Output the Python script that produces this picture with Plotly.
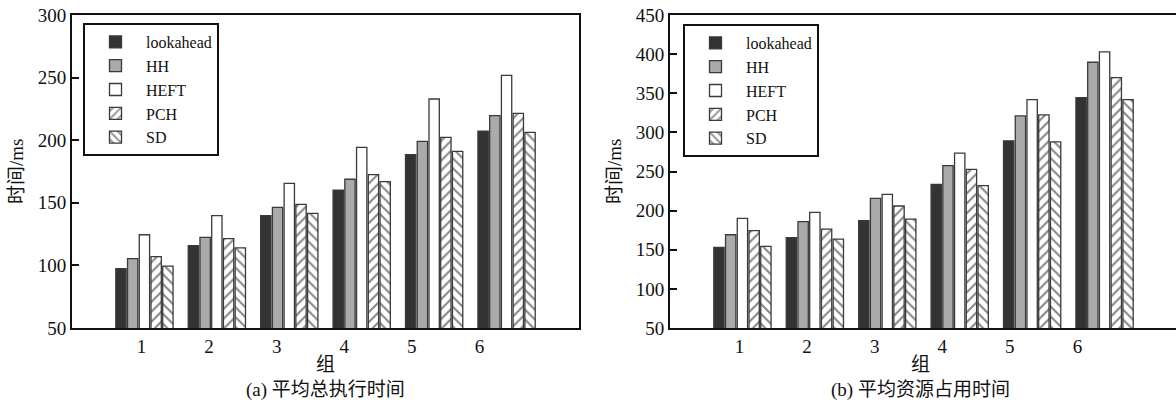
import plotly.graph_objects as go

# ---------------- data ----------------
groups = [1, 2, 3, 4, 5, 6]
tick_labels = ["1", "2", "3", "4", "5", "6"]
series_names = ["lookahead", "HH", "HEFT", "PCH", "SD"]

# (a) 平均总执行时间
a_lookahead = [97.5, 115.7, 139.7, 160.2, 188.4, 207.3]
a_hh        = [105.4, 122.4, 146.4, 168.8, 199.1, 219.6]
a_heft      = [124.5, 139.7, 165.5, 194.3, 232.9, 251.8]
a_pch       = [107.0, 121.4, 148.8, 172.5, 202.3, 221.5]
a_sd        = [99.5, 114.0, 141.6, 166.9, 191.1, 206.3]

# (b) 平均资源占用时间
b_lookahead = [152.9, 165.4, 187.2, 233.5, 289.2, 344.5]
b_hh        = [169.2, 185.9, 215.6, 257.4, 321.0, 389.6]
b_heft      = [190.1, 197.8, 220.7, 273.5, 341.9, 403.0]
b_pch       = [174.4, 176.4, 205.9, 252.6, 322.3, 370.0]
b_sd        = [154.2, 163.6, 189.2, 231.9, 287.9, 341.9]

a_values = [a_lookahead, a_hh, a_heft, a_pch, a_sd]
b_values = [b_lookahead, b_hh, b_heft, b_pch, b_sd]

a_yticks = [50, 100, 150, 200, 250, 300]
b_yticks = [50, 100, 150, 200, 250, 300, 350, 400, 450]

# ---------------- styling ----------------
W, H = 1176, 407
FONT = "Liberation Serif"
TXT = "Liberation Serif, Noto Sans CJK SC, serif"
OUTLINE = "#3a3a3a"

styles = [
    dict(color="#333333"),
    dict(color="#aaaaaa"),
    dict(color="#ffffff"),
    dict(color="#ffffff", pattern=dict(shape="/", fgcolor="#111111", bgcolor="#ffffff", size=7, solidity=0.3)),
    dict(color="#ffffff", pattern=dict(shape="\\", fgcolor="#111111", bgcolor="#ffffff", size=7, solidity=0.3)),
]

fig = go.Figure()
for name, vals, st in zip(series_names, a_values, styles):
    fig.add_trace(go.Bar(x=groups, y=vals, name=name, xaxis="x", yaxis="y", legend="legend",
                         marker=dict(line=dict(color=OUTLINE, width=1.3), **st)))
for name, vals, st in zip(series_names, b_values, styles):
    fig.add_trace(go.Bar(x=groups, y=vals, name=name, xaxis="x2", yaxis="y2", legend="legend2",
                         marker=dict(line=dict(color=OUTLINE, width=1.3), **st)))

# tick positions drift slightly from group centres in the original (layout detail)
tick_pos = [g * 0.933 + 0.027 for g in groups]

px_per_unit = (579 - 72) / 7.0
y_dom = [1 - 328 / H, 1 - 15 / H]

axis_common = dict(showline=True, linecolor="#111111", linewidth=2, showgrid=False, zeroline=False,
                   automargin=False, tickfont=dict(family=FONT, size=19, color="#111111"))

legend_common = dict(xanchor="left", yanchor="top", bgcolor="white", bordercolor="#111111",
                     borderwidth=2, font=dict(family=FONT, size=16, color="#111111"),
                     itemwidth=51, tracegroupgap=0)

fig.update_layout(
    width=W, height=H,
    margin=dict(l=0, r=0, t=0, b=0, autoexpand=False),
    paper_bgcolor="white", plot_bgcolor="white",
    barmode="group", bargap=0.19, bargroupgap=0.12,
    font=dict(family=FONT, size=19, color="#111111"),
    xaxis=dict(domain=[72 / W, 579 / W], range=[0, 7], tickmode="array", tickvals=tick_pos,
               ticktext=tick_labels, ticks="", mirror=True, anchor="y", **axis_common),
    yaxis=dict(domain=y_dom, range=[50, 300], tickmode="array", tickvals=a_yticks,
               ticks="inside", ticklen=7, tickwidth=1.5, tickcolor="#111111", mirror=True,
               anchor="x", **axis_common),
    xaxis2=dict(domain=[670 / W, 1.0], range=[0, (W - 670) / px_per_unit], tickmode="array",
                tickvals=tick_pos, ticktext=tick_labels, ticks="", mirror=True, anchor="y2",
                **axis_common),
    yaxis2=dict(domain=y_dom, range=[50, 450], tickmode="array", tickvals=b_yticks,
                ticks="inside", ticklen=7, tickwidth=1.5, tickcolor="#111111", mirror=False,
                anchor="x2", **axis_common),
    legend=dict(x=83 / W, y=1 - 23 / H, **legend_common),
    legend2=dict(x=683 / W, y=1 - 24 / H, **legend_common),
    showlegend=True,
)

ann_font = dict(family=TXT, size=19, color="#111111")
fig.add_annotation(text="时间/ms", x=17 / W, y=1 - 172 / H, xref="paper", yref="paper",
                   textangle=-90, showarrow=False, font=ann_font, xanchor="center", yanchor="middle")
fig.add_annotation(text="时间/ms", x=615 / W, y=1 - 172 / H, xref="paper", yref="paper",
                   textangle=-90, showarrow=False, font=ann_font, xanchor="center", yanchor="middle")
fig.add_annotation(text="组<br>(a) 平均总执行时间", x=325 / W, y=1 - 377 / H, xref="paper", yref="paper",
                   showarrow=False, font=ann_font, xanchor="center", yanchor="middle")
fig.add_annotation(text="组<br>(b) 平均资源占用时间", x=920 / W, y=1 - 377 / H, xref="paper", yref="paper",
                   showarrow=False, font=ann_font, xanchor="center", yanchor="middle")

fig.write_html("out.html", config={"displayModeBar": False},
               post_script="document.body.style.margin='0';")
